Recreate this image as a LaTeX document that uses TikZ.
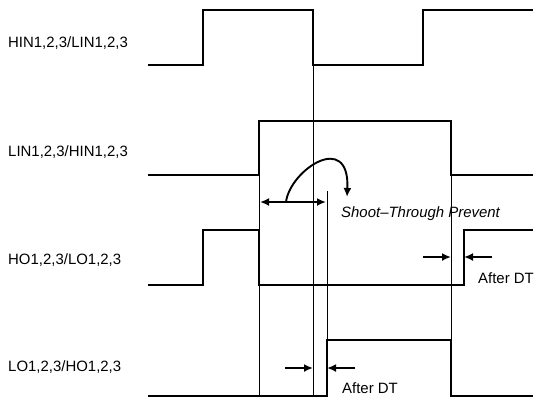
\documentclass[tikz,border=0pt]{standalone}
\usepackage{fontspec}
\setmainfont{Liberation Sans}
\usetikzlibrary{arrows.meta}

\begin{document}
\begin{tikzpicture}[x=1bp, y=-1bp, >={Latex[length=9bp,width=8bp]},
  signal/.style={line width=2.4bp, line join=miter},
  guide/.style={line width=0.8bp},
  gaparrow/.style={line width=1.9bp, ->},
  lbl/.style={anchor=base west, inner sep=0pt, font=\fontsize{15}{18}\selectfont}]

\useasboundingbox (0,0) rectangle (536,399);

% Signal names
\node[lbl] (hinname) at (8,47) {HIN1,2,3/LIN1,2,3};
\node[lbl] (linname) at (8,156) {LIN1,2,3/HIN1,2,3};
\node[lbl] (honame) at (8,264) {HO1,2,3/LO1,2,3};
\node[lbl] (loname) at (8,371) {LO1,2,3/HO1,2,3};

% Waveforms
\draw[signal] (148,65) -- (203,65) -- (203,10) -- (313,10) -- (313,65) -- (423,65) -- (423,10) -- (533,10);
\draw[signal] (148,175) -- (259,175) -- (259,121) -- (451,121) -- (451,175) -- (533,175);
\draw[signal] (148,285) -- (203,285) -- (203,230) -- (259,230) -- (259,285) -- (464,285) -- (464,230) -- (533,230);
\draw[signal] (148,396) -- (327,396) -- (327,340) -- (451,340) -- (451,396) -- (533,396);

% Timing guides
\draw[guide] (313,65) -- (313,396);
\draw[guide] (259,175) -- (259,396);
\draw[guide] (327,191) -- (327,340);
\draw[guide] (451,175) -- (451,340);

% Shoot-through window
\draw[gaparrow, <->] (260,202) -- (326,202);
\draw[gaparrow] (286,202) .. controls (290,170) and (350,130) .. (347,197);
\node[lbl, font=\fontsize{15}{18}\selectfont\itshape] (stp) at (341,217) {Shoot\textendash Through Prevent};

% Dead time after HO
\draw[gaparrow] (423,257) -- (451,257);
\draw[gaparrow] (492,257) -- (464,257);
\node[lbl] (dthigh) at (478,283) {After DT};

% Dead time after LO
\draw[gaparrow] (285,368) -- (313,368);
\draw[gaparrow] (355,368) -- (327,368);
\node[lbl] (dtlow) at (342,393) {After DT};

\end{tikzpicture}
\end{document}
